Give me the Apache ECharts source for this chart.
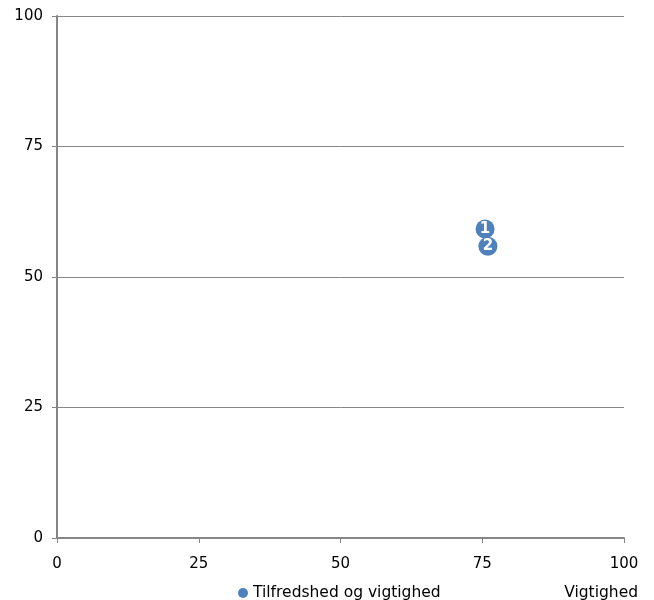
<!DOCTYPE html>
<html><head><meta charset="utf-8">
<script src="https://cdn.jsdelivr.net/npm/echarts@6/dist/echarts.min.js"></script>
<style>html,body{margin:0;padding:0;background:#fff}#c{width:654px;height:600px}</style>
</head><body><div id="c"></div>
<script>
var seriesName = 'Tilfredshed og vigtighed';
var xAxisName = 'Vigtighed';
var pointLabels = ['1', '2'];
var xValues = [75.5, 76.0];
var yValues = [59.2, 55.9];

var data = pointLabels.map(function (l, i) { return { value: [xValues[i], yValues[i]], name: l }; });
var font = '"DejaVu Sans", Verdana, sans-serif';
var chart = echarts.init(document.getElementById('c'), null, { renderer: 'canvas' });
chart.setOption({
  animation: false,
  grid: { left: 57, right: 30, top: 16, bottom: 62, containLabel: false },
  xAxis: {
    type: 'value', min: 0, max: 100, interval: 25,
    axisLine: { show: true, lineStyle: { color: '#868686', width: 2 } },
    axisTick: { show: true, length: 5, lineStyle: { color: '#868686' } },
    splitLine: { show: false },
    axisLabel: { color: '#000', fontFamily: font, fontSize: 15, margin: 19 }
  },
  yAxis: {
    type: 'value', min: 0, max: 100, interval: 25,
    axisLine: { show: true, lineStyle: { color: '#868686', width: 2 } },
    axisTick: { show: true, length: 5, lineStyle: { color: '#868686' } },
    splitLine: { show: true, lineStyle: { color: '#868686', width: 1 } },
    axisLabel: { color: '#000', fontFamily: font, fontSize: 15, margin: 14 }
  },
  legend: {
    show: true, top: 580, left: 233, itemWidth: 10, itemHeight: 10, itemGap: 4,
    icon: 'circle',
    textStyle: { color: '#000', fontFamily: font, fontSize: 15.5 },
    data: [seriesName]
  },
  graphic: [{
    type: 'text', right: 16, top: 585,
    style: { text: xAxisName, fill: '#000', font: '15.5px "DejaVu Sans", Verdana, sans-serif' }
  }],
  series: [{
    name: seriesName, type: 'scatter', symbol: 'circle', symbolSize: 19,
    itemStyle: { color: '#4f81bd', opacity: 1 },
    label: { show: true, position: 'inside', formatter: '{b}', color: '#fff', fontWeight: 'bold', fontFamily: font, fontSize: 15 },
    data: data
  }]
});
</script></body></html>
